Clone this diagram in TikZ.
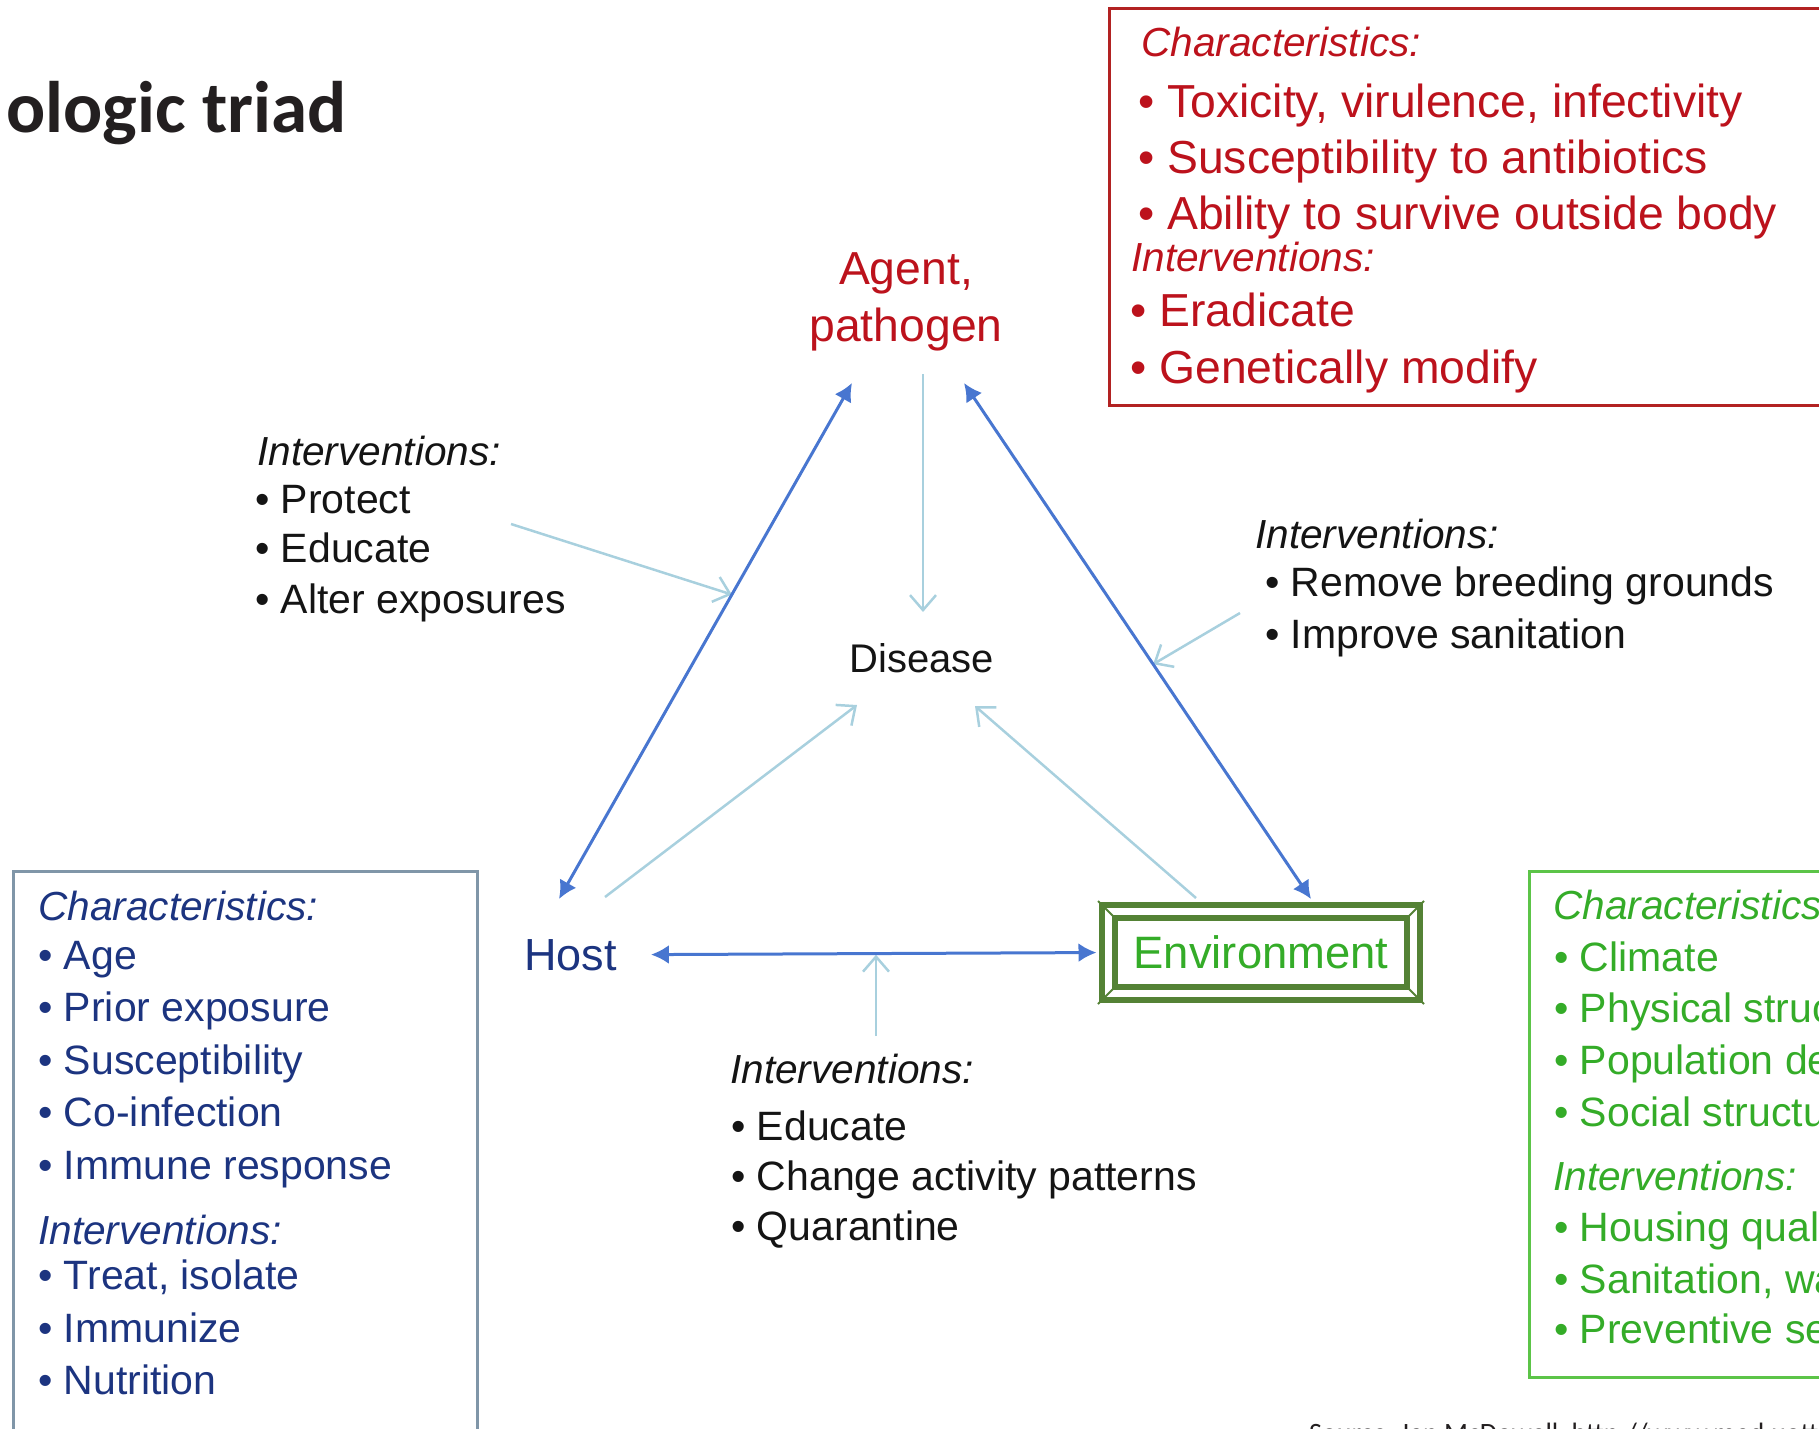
\documentclass[tikz,border=0pt]{standalone}
\usepackage{fontspec}
\setmainfont{Liberation Sans}
\newfontfamily\titlefont{Carlito}
\usetikzlibrary{arrows.meta,calc}

\definecolor{redtxt}{RGB}{188,18,28}
\definecolor{redline}{RGB}{178,34,34}
\definecolor{hosttxt}{RGB}{28,52,128}
\definecolor{hostline}{RGB}{128,150,168}
\definecolor{greentxt}{RGB}{52,172,40}
\definecolor{greenline}{RGB}{92,196,72}
\definecolor{envgreen}{RGB}{84,130,53}
\definecolor{arrblue}{RGB}{72,118,208}
\definecolor{arrlight}{RGB}{168,208,222}
\definecolor{titlegray}{RGB}{35,31,32}
\definecolor{blacktxt}{RGB}{20,20,20}

\begin{document}
\begin{tikzpicture}[x=1pt,y=-1pt,
    txt/.style={anchor=base west,inner sep=0pt},
    big/.style={font=\fontsize{46.3}{57}\selectfont},
    mid/.style={font=\fontsize{41}{50}\selectfont},
    midit/.style={font=\fontsize{40.6}{50}\selectfont\itshape},
    boxline/.style={line width=3pt},
    bluearr/.style={draw=arrblue,line width=3pt,{Latex[length=18pt,width=19pt]}-{Latex[length=18pt,width=19pt]}},
    lightarr/.style={draw=arrlight,line width=2.5pt,-{Straight Barb[length=15pt,width=26pt]}}]

  \useasboundingbox (0,0) rectangle (1819,1428);
  \clip (0,0) rectangle (1819,1428);

  % title, source
  \node[txt,font={\fontsize{73}{80}\selectfont\titlefont\bfseries},text=titlegray] (title) at (6,132) {ologic triad};
  \node[txt,font={\fontsize{28}{32}\selectfont\titlefont},text=titlegray] (source) at (1309,1442) {Source: Ian McDowell, http://www.med.uottawa.ca};

  % boxes
  \draw[boxline,draw=redline] (1109,8) rectangle (1830,405);
  \draw[boxline,draw=hostline] (13,871) rectangle (477,1440);
  \draw[boxline,draw=greenline] (1529,871) rectangle (1830,1377);

  % triad
  \node[big,text=redtxt,align=center,inner sep=0pt] (agent) at (906,302) {Agent,\\pathogen};
  \node[txt,anchor=base,font=\fontsize{40}{48}\selectfont,text=blacktxt] (disease) at (922,672) {Disease};
  \node[txt,font=\fontsize{45}{54}\selectfont,text=hosttxt] (host) at (524,970) {Host};
  \node[draw=envgreen,line width=6pt,double=white,double distance=7pt,
        minimum width=305pt,minimum height=82pt,inner sep=0pt,
        font=\fontsize{45.4}{54}\selectfont,text=greentxt] (env) at (1261,952.5) {Environment};
  \foreach \a/\sx/\sy in {north west/1/1,north east/-1/1,south west/1/-1,south east/-1/-1}
    \draw[envgreen,line width=2pt] ([shift={(-7.5*\sx,-7.5*\sy)}]env.\a) -- ([shift={(8*\sx,8*\sy)}]env.\a);

  % agent box
  \path[text=redtxt]
    (1141,56) node[txt,midit] (rc0) {Characteristics:}
    (1138,117) node[txt,big] (rc1) {• Toxicity, virulence, infectivity}
    (1138,173) node[txt,big] (rc2) {• Susceptibility to antibiotics}
    (1138,229) node[txt,big] (rc3) {• Ability to survive outside body}
    (1131,271) node[txt,midit] (ri0) {Interventions:}
    (1130,326) node[txt,big] (ri1) {• Eradicate}
    (1130,383) node[txt,big] (ri2) {• Genetically modify};

  % host box
  \path[text=hosttxt]
    (38,920) node[txt,midit] (hc0) {Characteristics:}
    (38,969) node[txt,mid] (hc1) {• Age}
    (38,1021) node[txt,mid] (hc2) {• Prior exposure}
    (38,1074) node[txt,mid] (hc3) {• Susceptibility}
    (38,1126) node[txt,mid] (hc4) {• Co-infection}
    (38,1179) node[txt,mid] (hc5) {• Immune response}
    (38,1244) node[txt,midit] (hi0) {Interventions:}
    (38,1289) node[txt,mid] (hi1) {• Treat, isolate}
    (38,1342) node[txt,mid] (hi2) {• Immunize}
    (38,1394) node[txt,mid] (hi3) {• Nutrition};

  % environment box
  \path[text=greentxt]
    (1553,919) node[txt,midit] (gc0) {Characteristics}
    (1554,971) node[txt,mid] (gc1) {• Climate}
    (1554,1022) node[txt,mid] (gc2) {• Physical struc}
    (1554,1074) node[txt,mid] (gc3) {• Population de}
    (1554,1126) node[txt,mid] (gc4) {• Social structu}
    (1553,1190) node[txt,midit] (gi0) {Interventions:}
    (1554,1241) node[txt,mid] (gi1) {• Housing qual}
    (1554,1293) node[txt,mid] (gi2) {• Sanitation, wa}
    (1554,1343) node[txt,mid] (gi3) {• Preventive se};

  % interventions on the sides
  \path[text=blacktxt]
    (257,465) node[txt,midit] (li0) {Interventions:}
    (255,513) node[txt,mid] (li1) {• Protect}
    (255,562) node[txt,mid] (li2) {• Educate}
    (255,613) node[txt,mid] (li3) {• Alter exposures}
    (1255,548) node[txt,midit] (ti0) {Interventions:}
    (1265,596) node[txt,mid] (ti1) {• Remove breeding grounds}
    (1265,648) node[txt,mid] (ti2) {• Improve sanitation}
    (730,1083) node[txt,midit] (bi0) {Interventions:}
    (731,1140) node[txt,mid] (bi1) {• Educate}
    (731,1190) node[txt,mid] (bi2) {• Change activity patterns}
    (731,1240) node[txt,mid] (bi3) {• Quarantine};

  % arrow ends
  \coordinate (agSW) at (852,383);
  \coordinate (agSE) at (964,383);
  \coordinate (agS) at (923,374);
  \coordinate (hoN) at (559,899);
  \coordinate (hoNE) at (605,897);
  \coordinate (enN) at (1311,899);
  \coordinate (enNW) at (1196,898);
  \coordinate (diN) at (923,612);
  \coordinate (diSW) at (857,705);
  \coordinate (diSE) at (975,706);
  \coordinate (lint) at (511,524);
  \coordinate (rint) at (1240,613);
  \coordinate (bint) at (876,1036);

  \begin{scope}
    \draw[lightarr] (agS) -- (diN);
    \draw[lightarr] (hoNE) -- (diSW);
    \draw[lightarr] (enNW) -- (diSE);
    \draw[lightarr] (lint) -- ($(hoN)!0.59!(agSW)$);
    \draw[lightarr] (rint) -- ($(agSE)!0.545!(enN)$);
    \draw[lightarr] (bint) -- (bint |- host.east);
    \draw[bluearr] (hoN) -- (agSW);
    \draw[bluearr] (agSE) -- (enN);
    \draw[bluearr,shorten <=34pt,shorten >=9pt] (host.east) -- (env.west);
  \end{scope}
\end{tikzpicture}
\end{document}
